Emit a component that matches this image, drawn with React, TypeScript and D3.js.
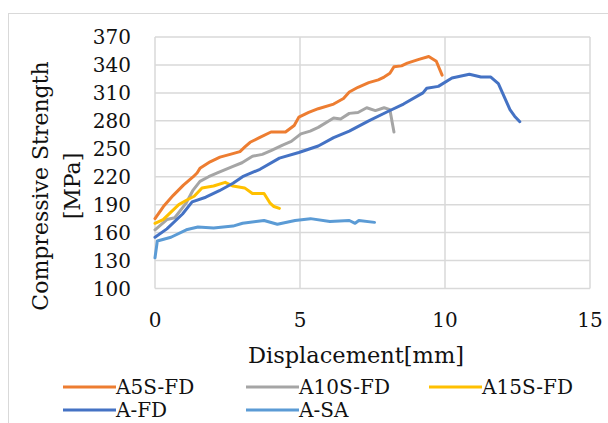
import React from 'react';
import * as d3 from 'd3';

// displacement [mm] / compressive strength [MPa]
const a5sX = [0, 0.29, 0.63, 0.98, 1.32, 1.45, 1.55, 1.9, 2.24, 2.59, 2.93, 3.1, 3.28, 3.6, 4.0, 4.5, 4.8, 4.96, 5.3, 5.63, 6.16, 6.5, 6.7, 7.0, 7.37, 7.7, 7.9, 8.1, 8.24, 8.5, 8.7, 9.1, 9.44, 9.7, 9.9];
const a5sY = [175, 188, 200, 211, 220, 224, 229, 236, 241, 244, 247, 252, 257, 262, 268, 268, 275, 284, 289, 293, 298, 304, 311, 316, 321, 324, 327, 331, 338, 339, 342, 346, 349, 344, 329];

const a10sX = [0, 0.41, 0.68, 1.08, 1.3, 1.55, 1.85, 2.15, 2.69, 3.0, 3.36, 3.7, 4.0, 4.4, 4.7, 5.03, 5.35, 5.63, 6.16, 6.4, 6.7, 7.0, 7.3, 7.6, 7.9, 8.1, 8.24];
const a10sY = [163, 174, 176, 192, 205, 215, 220, 224, 231, 235, 242, 244, 248, 254, 258, 266, 269, 273, 283, 282, 288, 289, 294, 291, 294, 292, 268];

const a15sX = [0, 0.28, 0.55, 0.82, 1.1, 1.35, 1.62, 2.02, 2.42, 2.69, 3.09, 3.36, 3.76, 3.96, 4.1, 4.29];
const a15sY = [170, 174, 182, 190, 195, 199, 208, 210, 214, 210, 208, 202, 202, 192, 188, 186];

const afdX = [0, 0.41, 0.95, 1.28, 1.75, 2.22, 2.69, 3.02, 3.62, 4.29, 4.96, 5.63, 6.16, 6.7, 7.37, 8.03, 8.57, 9.24, 9.37, 9.77, 10.24, 10.84, 11.24, 11.58, 11.84, 12.04, 12.24, 12.4, 12.58];
const afdY = [155, 164, 180, 193, 198, 205, 213, 220, 228, 240, 246, 253, 262, 269, 280, 290, 298, 310, 315, 317, 326, 330, 327, 327, 320, 306, 292, 285, 279];

const asaX = [0, 0.08, 0.55, 1.08, 1.48, 2.02, 2.69, 3.02, 3.76, 4.22, 4.83, 5.36, 6.03, 6.7, 6.9, 7.03, 7.57];
const asaY = [133, 151, 155, 163, 166, 165, 167, 170, 173, 169, 173, 175, 172, 173, 170, 173, 171];

const seriesNames = ['A5S-FD', 'A10S-FD', 'A15S-FD', 'A-FD', 'A-SA'];
const seriesColors = ['#ED7D31', '#A5A5A5', '#FFC000', '#4472C4', '#5B9BD5'];
const seriesX = [a5sX, a10sX, a15sX, afdX, asaX];
const seriesY = [a5sY, a10sY, a15sY, afdY, asaY];

const xTicks = [0, 5, 10, 15];
const yTicks = [100, 130, 160, 190, 220, 250, 280, 310, 340, 370];

const font = '"DejaVu Serif", serif';

export default function App() {
  const left = 155, right = 590, top = 37, bottom = 288.5;
  const x = d3.scaleLinear().domain([0, 15]).range([left, right]);
  const y = d3.scaleLinear().domain([100, 370]).range([bottom, top]);
  const line = d3.line<[number, number]>()
    .x(d => x(d[0]))
    .y(d => y(d[1]));

  // legend slots: [lineX1, textBaseline]
  const legendPos = [[63, 394], [246, 394], [429, 394], [63, 417], [246, 417]];

  return (
    <svg width={608} height={423} style={{ position: 'absolute', left: 0, top: 0, background: '#fff' }}>
      <rect x={8.5} y={13.5} width={620} height={430} fill="#fff" stroke="#D9D9D9" strokeWidth={1} />

      {yTicks.map(t => (
        <line key={'gy' + t} x1={left} x2={right} y1={y(t)} y2={y(t)} stroke="#D9D9D9" strokeWidth={1.5} />
      ))}
      {xTicks.map(t => (
        <line key={'gx' + t} x1={x(t)} x2={x(t)} y1={top} y2={bottom} stroke="#D9D9D9" strokeWidth={1.5} />
      ))}

      {yTicks.map(t => (
        <text key={'ty' + t} x={131} y={y(t)} dy="0.36em" textAnchor="end" fontFamily={font} fontSize={20} fill="#111">{t}</text>
      ))}
      {xTicks.map(t => (
        <text key={'tx' + t} x={x(t)} y={327} textAnchor="middle" fontFamily={font} fontSize={20} fill="#111">{t}</text>
      ))}

      <text transform="translate(48,186) rotate(-90)" textAnchor="middle" fontFamily={font} fontSize={22} fill="#111">Compressive Strength</text>
      <text transform="translate(80,186) rotate(-90)" textAnchor="middle" fontFamily={font} fontSize={22} fill="#111">[MPa]</text>
      <text x={356} y={363} textAnchor="middle" fontFamily={font} fontSize={22.5} fill="#111">Displacement[mm]</text>

      {seriesNames.map((n, i) => (
        <path
          key={n}
          d={line(seriesX[i].map((v, j) => [v, seriesY[i][j]] as [number, number])) || ''}
          fill="none"
          stroke={seriesColors[i]}
          strokeWidth={3}
          strokeLinejoin="round"
          strokeLinecap="round"
        />
      ))}

      {seriesNames.map((n, i) => (
        <g key={'lg' + n}>
          <line x1={legendPos[i][0]} x2={legendPos[i][0] + 53} y1={legendPos[i][1] - 7} y2={legendPos[i][1] - 7} stroke={seriesColors[i]} strokeWidth={3} />
          <text x={legendPos[i][0] + 53} y={legendPos[i][1]} fontFamily={font} fontSize={20} fill="#111">{n}</text>
        </g>
      ))}
    </svg>
  );
}
